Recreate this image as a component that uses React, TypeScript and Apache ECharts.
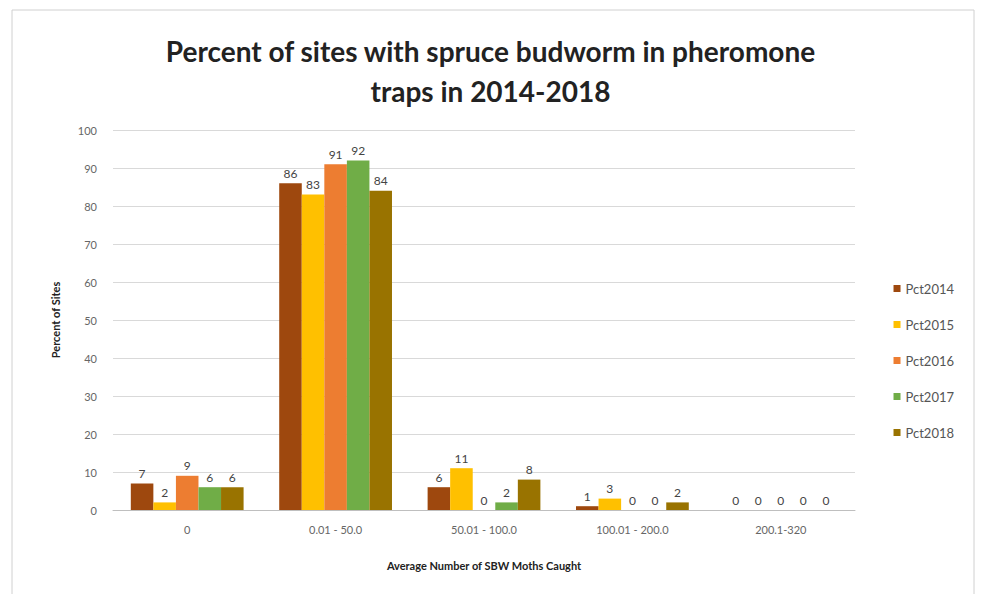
import React, { useEffect, useRef } from "react";
import * as echarts from "echarts";

const categories = ["0", "0.01 - 50.0", "50.01 - 100.0", "100.01 - 200.0", "200.1-320"];
const seriesNames = ["Pct2014", "Pct2015", "Pct2016", "Pct2017", "Pct2018"];
const pct2014 = [7, 86, 6, 1, 0];
const pct2015 = [2, 83, 11, 3, 0];
const pct2016 = [9, 91, 0, 0, 0];
const pct2017 = [6, 92, 2, 0, 0];
const pct2018 = [6, 84, 8, 2, 0];
const seriesColors = ["#9E480E", "#FFC000", "#ED7D31", "#70AD47", "#997300"];
const yTicks = { min: 0, max: 100, interval: 10 };

export default function App() {
  const ref = useRef<HTMLDivElement>(null);
  useEffect(() => {
    if (!ref.current) return;
    const chart = echarts.init(ref.current, null, { renderer: "svg" });
    const values = [pct2014, pct2015, pct2016, pct2017, pct2018];
    const font = "Lato, 'Open Sans', sans-serif";
    chart.setOption({
      animation: false,
      backgroundColor: "#ffffff",
      textStyle: { fontFamily: font },
      title: {
        text: "Percent of sites with spruce budworm in pheromone\ntraps in 2014-2018",
        left: "center",
        top: 26,
        textStyle: { fontFamily: font, fontSize: 28, fontWeight: "bold", color: "#222", lineHeight: 40 },
      },
      graphic: [
        {
          type: "rect",
          shape: { x: 12, y: 10, width: 962, height: 590 },
          style: { fill: "none", stroke: "#d0d0d0", lineWidth: 1 },
          silent: true,
        },
      ],
      legend: {
        orient: "vertical",
        right: 22,
        top: 277,
        itemWidth: 7,
        itemHeight: 7,
        itemGap: 23,
        icon: "rect",
        textStyle: { color: "#555", fontSize: 13, fontFamily: font },
        data: seriesNames,
      },
      grid: { left: 113, right: 126, top: 130, bottom: 84 },
      xAxis: {
        type: "category",
        data: categories,
        name: "Average Number of SBW Moths Caught",
        nameLocation: "middle",
        nameGap: 50,
        nameTextStyle: { fontWeight: "bold", fontSize: 11, color: "#222" },
        axisLine: { lineStyle: { color: "#bfbfbf" } },
        axisTick: { show: false },
        axisLabel: { color: "#666", fontSize: 11, margin: 14 },
      },
      yAxis: {
        type: "value",
        min: yTicks.min,
        max: yTicks.max,
        interval: yTicks.interval,
        name: "Percent of Sites",
        nameLocation: "middle",
        nameGap: 52,
        nameTextStyle: { fontWeight: "bold", fontSize: 11, color: "#222" },
        axisLine: { show: false },
        axisTick: { show: false },
        axisLabel: { color: "#666", fontSize: 11, margin: 16 },
        splitLine: { lineStyle: { color: "#d9d9d9" } },
      },
      series: seriesNames.map((name, i) => ({
        name,
        type: "bar",
        data: values[i],
        itemStyle: { color: seriesColors[i] },
        barGap: "0%",
        barCategoryGap: "24%",
        label: {
          show: true,
          position: "top",
          color: "#444",
          fontSize: 12,
          distance: 4,
        },
      })),
    });
    return () => chart.dispose();
  }, []);
  return (
    <div
      ref={ref}
      style={{ position: "fixed", left: 0, top: 0, width: 981, height: 594 }}
    />
  );
}
